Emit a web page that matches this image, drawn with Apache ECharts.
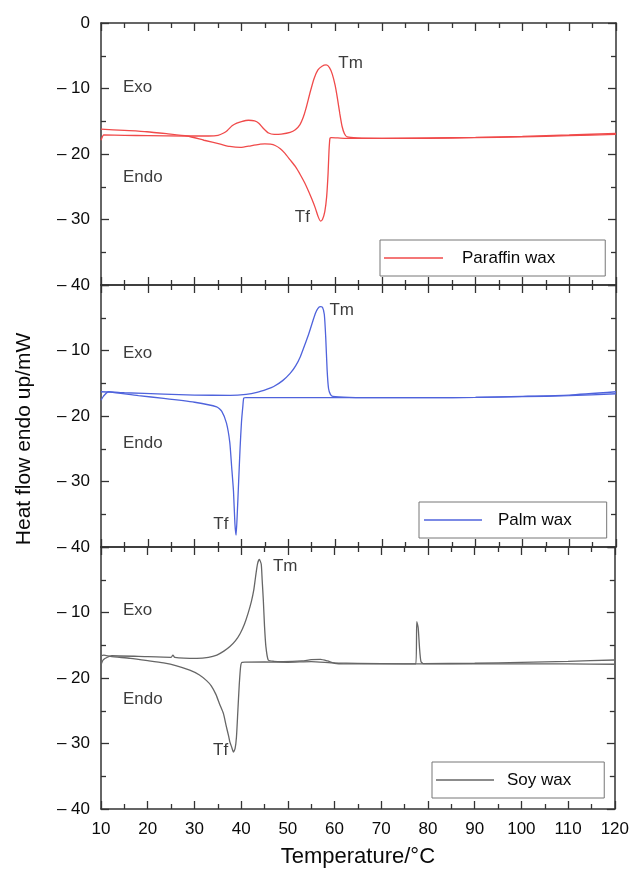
<!DOCTYPE html>
<html>
<head>
<meta charset="utf-8">
<title>DSC curves of waxes</title>
<script src="https://cdn.jsdelivr.net/npm/echarts@6/dist/echarts.min.js"></script>
<style>
  html, body { margin: 0; padding: 0; background: #fff; }
  #main { width: 632px; height: 873px; }
</style>
</head>
<body>
<div id="main"></div>
<script>
// values, [temperature °C, heat flow mW]
const paraffinHeat = [
  [10, -17.9], [10.6, -17.1], [15, -17.15], [20, -17.2], [28, -17.25], [33, -17.25], [35, -17.15],
  [36.2, -16.8], [37, -16.4], [38, -15.7], [39, -15.3], [40, -15.05], [41.5, -14.85], [42.8, -14.95],
  [43.7, -15.3], [44.7, -16.1], [45.8, -16.8], [47, -17.0], [48.5, -16.95], [50.4, -16.7], [51.5, -16.3],
  [52.5, -15.5], [53.2, -14.4], [53.8, -13], [54.7, -10.5], [55.5, -8.5], [56.3, -7.2], [57.2, -6.6],
  [58.1, -6.4], [58.8, -6.8], [59.4, -7.8], [60, -9.5], [60.5, -11.5], [61, -13.8], [61.5, -15.8],
  [62, -16.9], [62.6, -17.4], [64.7, -17.55], [70, -17.6], [80, -17.6], [90, -17.5], [100, -17.4],
  [110, -17.2], [120, -17.0]
];
const paraffinCool = [
  [120, -16.85], [110, -17.1], [100, -17.3], [90, -17.45], [80, -17.55], [70, -17.6], [62, -17.6],
  [59.2, -17.5], [58.9, -17.6], [58.7, -19.5], [58.5, -23], [58.2, -26.5], [57.8, -28.8], [57.3, -30.0],
  [56.9, -30.25], [56.4, -29.6], [55.8, -28.3], [55.1, -27], [54.4, -25.8], [53.5, -24.4], [52.6, -23.2],
  [51.5, -21.9], [50.4, -20.9], [49.3, -19.9], [48.3, -19.2], [47.2, -18.7], [46.2, -18.5], [45, -18.45],
  [44, -18.5], [42, -18.75], [39.8, -19.0], [37.5, -18.85], [35.5, -18.5], [32, -17.9], [28.4, -17.25],
  [24, -16.9], [19.8, -16.6], [15, -16.4], [10, -16.2]
];
const palmHeat = [
  [10, -17.6], [10.5, -17.0], [11.6, -16.3], [15, -16.45], [23.4, -16.65], [30, -16.8], [37.6, -16.85],
  [41, -16.7], [43.3, -16.4], [45.5, -15.9], [46.9, -15.5], [48.8, -14.6], [50.4, -13.5], [51.6, -12.3],
  [52.6, -10.9], [53.6, -9.0], [54.4, -7.4], [55.2, -5.6], [55.8, -4.3], [56.3, -3.6], [56.8, -3.3],
  [57.3, -3.4], [57.7, -4.5], [58, -8], [58.3, -13], [58.6, -15.8], [59, -16.7], [59.5, -17.0],
  [63, -17.15], [70, -17.2], [80, -17.2], [90, -17.15], [100, -17.0], [110, -16.8], [120, -16.3]
];
const palmCool = [
  [120, -16.6], [110, -16.9], [100, -17.05], [90, -17.15], [80, -17.2], [60, -17.2], [50, -17.2],
  [41, -17.2], [40.5, -17.25], [40.3, -18.5], [40.0, -21], [39.7, -25], [39.4, -30], [39.1, -35],
  [38.85, -38.2], [38.6, -36.4], [38.3, -31.5], [37.9, -27.7], [37.5, -24], [36.8, -21.1], [35.8, -19.3],
  [34.7, -18.6], [30, -17.9], [23.4, -17.3], [18, -16.9], [12, -16.35], [10, -16.3]
];
const soyHeat = [
  [10, -18.0], [10.5, -17.2], [12.3, -16.6], [18, -16.7], [25, -16.85], [25.4, -16.5], [25.8, -16.85],
  [30.5, -17.0], [33, -16.85], [34.8, -16.5], [36.3, -15.9], [37.6, -15.2], [38.8, -14.3], [39.8, -13.2],
  [40.7, -11.8], [41.5, -10.1], [42.2, -8.3], [42.7, -6.6], [43.1, -4.5], [43.5, -2.6], [43.9, -1.9],
  [44.3, -2.6], [44.5, -5], [44.75, -8.1], [45.0, -12], [45.3, -15.2], [45.8, -17.25], [47, -17.45],
  [49, -17.5], [53, -17.4], [55, -17.2], [57, -17.15], [58.5, -17.4], [60, -17.75], [62, -17.85],
  [70, -17.85], [77.4, -17.85], [77.6, -11.4], [77.9, -12.3], [78.2, -15.5], [78.5, -17.5], [79, -17.8],
  [90, -17.75], [100, -17.6], [110, -17.45], [120, -17.25]
];
const soyCool = [
  [120, -17.9], [110, -17.85], [100, -17.85], [90, -17.85], [80, -17.85], [70, -17.8], [60, -17.7],
  [55, -17.5], [50, -17.6], [45, -17.55], [40.2, -17.6], [39.9, -18.2], [39.6, -21], [39.3, -25],
  [39.0, -29], [38.7, -30.8], [38.35, -31.3], [38.0, -30.6], [37.6, -29.8], [37.3, -28.8], [36.8, -27.3],
  [36.2, -25.4], [35.4, -24.0], [34.6, -22.5], [33.6, -21.2], [32.6, -20.4], [31, -19.5], [29, -18.8],
  [26, -18.1], [23.4, -17.7], [20, -17.35], [16.3, -17.0], [12, -16.7], [10.6, -16.5], [10, -16.6]
];

const waxNames = ['Paraffin wax', 'Palm wax', 'Soy wax'];
const waxColors = ['#f04a4a', '#4f63dc', '#666666'];

// annotation labels [x, y, text] per panel
const paraffinNotes = [[14.7, -9.8, 'Exo'], [14.7, -23.5, 'Endo'], [51.4, -29.6, 'Tf'], [60.7, -6.15, 'Tm']];
const palmNotes = [[14.7, -10.5, 'Exo'], [14.7, -24.1, 'Endo'], [34.0, -36.6, 'Tf'], [58.8, -3.8, 'Tm']];
const soyNotes = [[14.7, -9.6, 'Exo'], [14.7, -23.2, 'Endo'], [34.0, -31.1, 'Tf'], [46.8, -3.0, 'Tm']];

const xMin = 10, xMax = 120, xStep = 10;
const yMin = -40, yMax = 0, yStep = 10;

const FONT = '"Liberation Sans", Arial, Helvetica, sans-serif';
const INK = '#0a0a0a';
const FRAME = '#333';

const chart = echarts.init(document.getElementById('main'));

const grids = [0, 1, 2].map(i => ({ left: 101, right: 16, top: 23 + i * 262, height: 262 }));

const tick = { show: true, inside: true, length: 8, lineStyle: { color: FRAME, width: 1.3 } };
const minor = { show: true, splitNumber: 2, length: 5, lineStyle: { color: FRAME, width: 1.3 } };
const line = { show: true, onZero: false, lineStyle: { color: FRAME, width: 1.5 } };

const xAxes = [];
const yAxes = [];
for (let i = 0; i < 3; i++) {
  ['bottom', 'top'].forEach(pos => {
    const ax = {
      type: 'value', gridIndex: i, position: pos,
      min: xMin, max: xMax, interval: xStep,
      axisLine: line, axisTick: tick, minorTick: minor,
      splitLine: { show: false }, minorSplitLine: { show: false },
      axisLabel: {
        show: i === 2 && pos === 'bottom',
        color: INK, fontFamily: FONT, fontSize: 17, margin: 12
      }
    };
    if (i === 2 && pos === 'bottom') {
      ax.name = 'Temperature/°C';
      ax.nameLocation = 'middle';
      ax.nameGap = 37;
      ax.nameTextStyle = { color: INK, fontFamily: FONT, fontSize: 22 };
    }
    xAxes.push(ax);
  });
  ['left', 'right'].forEach(pos => {
    yAxes.push({
      type: 'value', gridIndex: i, position: pos,
      min: yMin, max: yMax, interval: yStep,
      axisLine: line, axisTick: tick, minorTick: minor,
      splitLine: { show: false }, minorSplitLine: { show: false },
      axisLabel: {
        show: pos === 'left',
        showMaxLabel: i === 0,
        color: INK, fontFamily: FONT, fontSize: 17, margin: 11,
        formatter: v => (v === 0 ? '0' : '\u2013 ' + Math.abs(v))
      }
    });
  });
}

const curves = [[paraffinHeat, paraffinCool], [palmHeat, palmCool], [soyHeat, soyCool]];
const notes = [paraffinNotes, palmNotes, soyNotes];

const series = [];
curves.forEach((pair, i) => {
  pair.forEach(data => {
    series.push({
      name: waxNames[i], type: 'line', xAxisIndex: i * 2, yAxisIndex: i * 2,
      data: data, symbol: 'none', smooth: 0.2, clip: true,
      lineStyle: { color: waxColors[i], width: 1.3 },
      itemStyle: { color: waxColors[i] }
    });
  });
  series.push({
    type: 'scatter', xAxisIndex: i * 2, yAxisIndex: i * 2, silent: true,
    symbolSize: 0, data: notes[i],
    label: {
      show: true, position: [0, 0], align: 'left', verticalAlign: 'middle',
      formatter: p => p.data[2], color: INK, fontFamily: FONT, fontSize: 17
    }
  });
});

const legendBoxes = [
  { left: 380, top: 240, pad: [8, 50, 8, 4], gap: 14, w: 59 },
  { left: 419, top: 502, pad: [8, 35, 8, 5], gap: 11, w: 58 },
  { left: 432, top: 762, pad: [8, 33, 8, 4], gap: 8, w: 58 }
];
const legends = legendBoxes.map((b, i) => ({
  data: [{ name: waxNames[i], icon: 'rect' }], left: b.left, top: b.top, orient: 'horizontal',
  padding: b.pad, itemWidth: b.w, itemHeight: 1.3, selectedMode: false,
  borderColor: '#777', borderWidth: 1, backgroundColor: '#fff',
  textStyle: { color: INK, fontFamily: FONT, fontSize: 17, lineHeight: 20, padding: [0, 0, 0, b.gap] }
}));

const option = {
  animation: false,
  backgroundColor: '#fff',
  grid: grids,
  xAxis: xAxes,
  yAxis: yAxes,
  legend: legends,
  series: series,
  graphic: [{
    type: 'text', x: 24, y: 439, rotation: Math.PI / 2,
    style: {
      text: 'Heat flow endo up/mW', fill: INK,
      font: '21px ' + FONT, align: 'center', verticalAlign: 'middle'
    }
  }]
};

chart.setOption(option);
</script>
</body>
</html>
